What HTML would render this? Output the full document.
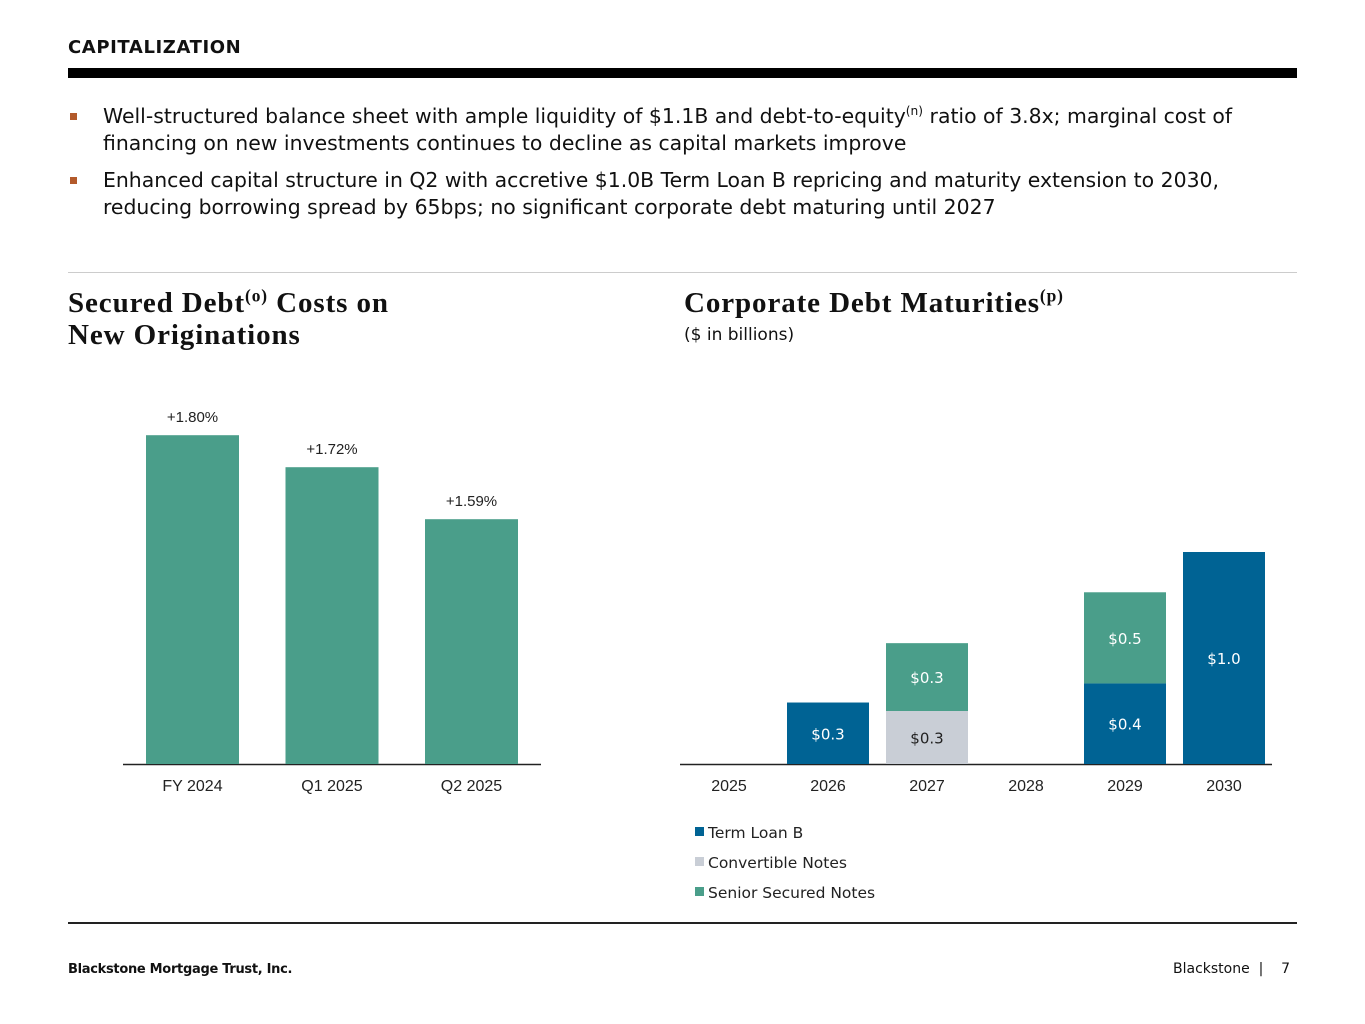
<!DOCTYPE html>
<html><head><meta charset="utf-8"><style>
body{margin:0;width:1365px;height:1024px;background:#fff;position:relative;font-family:"DejaVu Sans","Liberation Sans",sans-serif;color:#111;overflow:hidden}
.abs{position:absolute}
.title{left:68px;top:37px;font-size:18px;font-weight:bold;letter-spacing:0.6px}
.bar{left:68px;top:68px;width:1229px;height:10px;background:#000}
.bul{left:68px;font-size:20.4px;line-height:27px;width:1230px}
.bul .sq{position:absolute;left:2px;top:10px;width:7px;height:7px;background:#b35a2b}
.bul .t{margin-left:35px;white-space:nowrap}
.h{font-family:"Liberation Serif",serif;font-weight:bold;font-size:29px;line-height:32px;letter-spacing:0.9px}
sup{font-size:60%;line-height:0}
.foot{font-size:14px}
</style></head><body>
<div class="abs title">CAPITALIZATION</div>
<div class="abs bar"></div>
<div class="abs bul" style="top:103px"><span class="sq"></span><div class="t">Well-structured balance sheet with ample liquidity of $1.1B and debt-to-equity<sup>(n)</sup> ratio of 3.8x; marginal cost of<br>financing on new investments continues to decline as capital markets improve</div></div>
<div class="abs bul" style="top:167px"><span class="sq"></span><div class="t">Enhanced capital structure in Q2 with accretive $1.0B Term Loan B repricing and maturity extension to 2030,<br>reducing borrowing spread by 65bps; no significant corporate debt maturing until 2027</div></div>
<div class="abs" style="left:68px;top:272px;width:1229px;height:1px;background:#ccc"></div>
<div class="abs h" style="left:68px;top:287px">Secured Debt<sup>(o)</sup> Costs on<br>New Originations</div>
<div class="abs h" style="left:684px;top:287px">Corporate Debt Maturities<sup>(p)</sup></div>
<div class="abs" style="left:684px;top:325px;font-size:17px">($ in billions)</div>
<svg class="abs" style="left:0;top:0" width="1365" height="1024" id="svg"></svg>
<div class="abs" style="left:68px;top:922px;width:1229px;height:2px;background:#222"></div>
<div class="abs foot" style="left:68px;top:962px;font-weight:bold;font-size:13px;letter-spacing:-0.3px">Blackstone Mortgage Trust, Inc.</div>
<div class="abs foot" style="left:1173px;top:961px">Blackstone &nbsp;| &nbsp;&nbsp; 7</div>
<script>
const leftCats=["FY 2024","Q1 2025","Q2 2025"];
const leftVals=[1.80,1.72,1.59];
const leftLabels=["+1.80%","+1.72%","+1.59%"];
const rightCats=["2025","2026","2027","2028","2029","2030"];
const termLoan=[0,0.29,0,0,0.38,1.0];
const convNotes=[0,0,0.25,0,0,0];
const seniorNotes=[0,0,0.32,0,0.43,0];
const termLabels=["","$0.3","","","$0.4","$1.0"];
const convLabels=["","","$0.3","","",""];
const seniorLabels=["","","$0.3","","$0.5",""];
const NS="http://www.w3.org/2000/svg",svg=document.getElementById('svg');
function mk(t,a,txt){const e=document.createElementNS(NS,t);for(const k in a)e.setAttribute(k,a[k]);if(txt!=null)e.textContent=txt;svg.appendChild(e);return e;}
const base=764;
const ly=v=>base-(v-0.978)*400;
const lx=i=>192.5+i*139.5;
let e=mk('line',{x1:123,x2:541,y1:base+0.5,y2:base+0.5,stroke:'#222','stroke-width':1.5});

leftVals.forEach((v,i)=>{
 let r=mk('rect',{x:lx(i)-46.5,y:ly(v),width:93,height:base-ly(v),fill:'#4a9e8a'});
 
 let t=mk('text',{x:lx(i),y:ly(v)-13,'text-anchor':'middle','font-size':15,'font-family':'Liberation Sans,sans-serif',fill:'#222'},leftLabels[i]);
 
 let c=mk('text',{x:lx(i),y:791,'text-anchor':'middle','font-size':16,'font-family':'Liberation Sans,sans-serif',fill:'#222'},leftCats[i]);
 
});
const ry=v=>v*212;
const rx=i=>729+i*99;
e=mk('line',{x1:680,x2:1272,y1:base+0.5,y2:base+0.5,stroke:'#222','stroke-width':1.5});

const series=[[termLoan,termLabels,'#006394','#fff','term-loan-b'],[convNotes,convLabels,'#c9ced6','#222','convertible-notes'],[seniorNotes,seniorLabels,'#4a9e8a','#fff','senior-secured-notes']];
rightCats.forEach((c,i)=>{
 let y=base;
 series.forEach(s=>{
  const v=s[0][i];if(!v)return;const h=ry(v);
  let r=mk('rect',{x:rx(i)-41,y:y-h,width:82,height:h,fill:s[2]});
  
  let t=mk('text',{x:rx(i),y:y-h/2+6,'text-anchor':'middle','font-size':15,'font-family':'DejaVu Sans,sans-serif',fill:s[3]},s[1][i]);
  
  y-=h;
 });
 let t=mk('text',{x:rx(i),y:791,'text-anchor':'middle','font-size':16,'font-family':'Liberation Sans,sans-serif',fill:'#222'},c);
 
});
const legNames=["Term Loan B","Convertible Notes","Senior Secured Notes"];
legNames.forEach((n,i)=>{
 let r=mk('rect',{x:695,y:827+i*30,width:9,height:9,fill:series[i][2]});
 
 let t=mk('text',{x:708,y:838+i*30,'font-size':15.5,'font-family':'DejaVu Sans,sans-serif',fill:'#222'},n);
 
});
</script>
</body></html>
